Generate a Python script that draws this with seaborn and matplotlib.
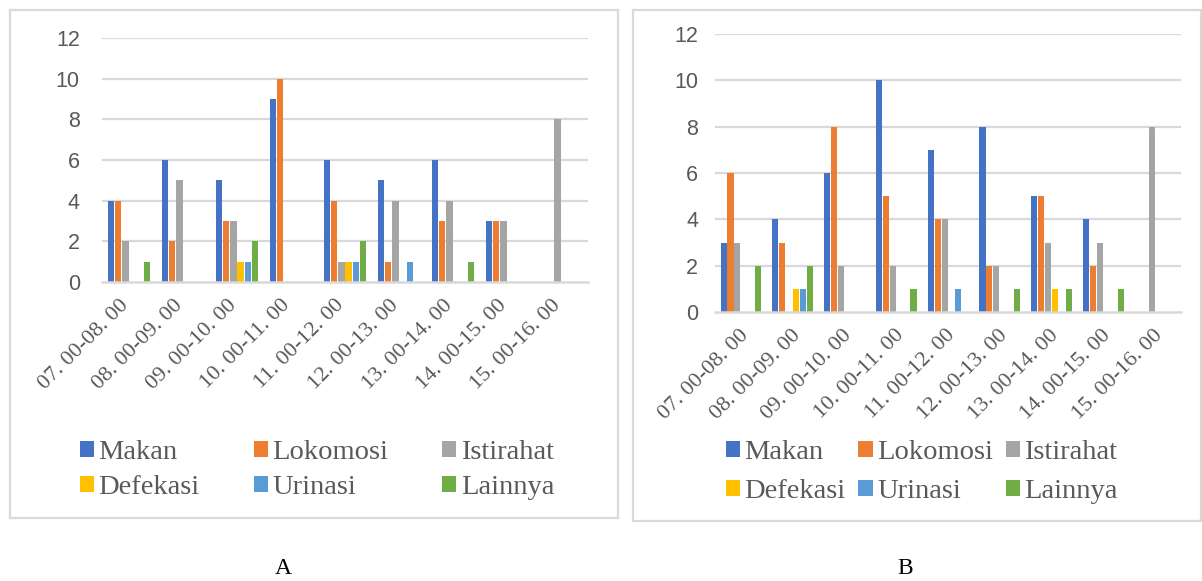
import matplotlib
matplotlib.use("Agg")
import matplotlib.pyplot as plt
from matplotlib.patches import Rectangle, Patch
from matplotlib.transforms import ScaledTranslation
import pandas as pd
import seaborn as sns

# Time slots (x-axis categories)
slots = ["07. 00-08. 00", "08. 00-09. 00", "09. 00-10. 00", "10. 00-11. 00",
         "11. 00-12. 00", "12. 00-13. 00", "13. 00-14. 00", "14. 00-15. 00",
         "15. 00-16. 00"]
activities = ["Makan", "Lokomosi", "Istirahat", "Defekasi", "Urinasi", "Lainnya"]
colors = ["#4472C4", "#ED7D31", "#A5A5A5", "#FFC000", "#5B9BD5", "#70AD47"]

# Panel A: frequency per activity and time slot
a_makan     = [4, 6, 5, 9, 6, 5, 6, 3, 0]
a_lokomosi  = [4, 2, 3, 10, 4, 1, 3, 3, 0]
a_istirahat = [2, 5, 3, 0, 1, 4, 4, 3, 8]
a_defekasi  = [0, 0, 1, 0, 1, 0, 0, 0, 0]
a_urinasi   = [0, 0, 1, 0, 1, 1, 0, 0, 0]
a_lainnya   = [1, 0, 2, 0, 2, 0, 1, 0, 0]

# Panel B
b_makan     = [3, 4, 6, 10, 7, 8, 5, 4, 0]
b_lokomosi  = [6, 3, 8, 5, 4, 2, 5, 2, 0]
b_istirahat = [3, 0, 2, 2, 4, 2, 3, 3, 8]
b_defekasi  = [0, 1, 0, 0, 0, 0, 1, 0, 0]
b_urinasi   = [0, 1, 0, 0, 1, 0, 0, 0, 0]
b_lainnya   = [2, 2, 0, 1, 0, 1, 1, 1, 0]

yticks = [0, 2, 4, 6, 8, 10, 12]


def long_frame(series):
    rows = []
    for act, vals in zip(activities, series):
        for slot, v in zip(slots, vals):
            rows.append({"Waktu": slot, "Aktivitas": act, "Frekuensi": v})
    return pd.DataFrame(rows)


df_a = long_frame([a_makan, a_lokomosi, a_istirahat, a_defekasi, a_urinasi, a_lainnya])
df_b = long_frame([b_makan, b_lokomosi, b_istirahat, b_defekasi, b_urinasi, b_lainnya])

sns.set_theme(style="white")
plt.rcParams["font.family"] = ["Liberation Serif", "DejaVu Serif"]

W, H = 1202, 581
fig = plt.figure(figsize=(W / 100, H / 100), dpi=100)


def fx(px):
    return px / W


def fy(py):
    return 1 - py / H


# Panel frames
frame_kw = dict(transform=fig.transFigure, fill=False, edgecolor="#D9D9D9", linewidth=1.6)
fig.patches.append(Rectangle((fx(10), fy(518)), fx(618) - fx(10), fy(10) - fy(518), **frame_kw))
fig.patches.append(Rectangle((fx(633), fy(521)), fx(1201) - fx(633), fy(10) - fy(521), **frame_kw))

grid_color = "#D9D9D9"
text_gray = "#595959"

# legend entries laid out row by row (matplotlib fills columns first)
row_order = [0, 3, 1, 4, 2, 5]


def draw_panel(df, box, ypad, xshift, legend_x, legend_y, colspace, rowspace):
    x0, x1, ytop, ybot = box
    ax = fig.add_axes([fx(x0), fy(ybot), fx(x1) - fx(x0), fy(ytop) - fy(ybot)])
    sns.barplot(data=df, x="Waktu", y="Frekuensi", hue="Aktivitas",
                hue_order=activities, order=slots, palette=colors,
                width=0.8, gap=0.12, ax=ax, legend=False, errorbar=None,
                linewidth=0, saturation=1)
    ax.set_ylim(0, 12)
    ax.set_yticks(yticks)
    ax.set_xlim(-0.5, len(slots) - 0.5)
    ax.set_xlabel("")
    ax.set_ylabel("")
    for y in yticks[1:]:
        ax.axhline(y, color=grid_color, linewidth=1.6, zorder=0)
    for s in ["top", "right", "left"]:
        ax.spines[s].set_visible(False)
    ax.spines["bottom"].set_color(grid_color)
    ax.spines["bottom"].set_linewidth(1.8)
    ax.tick_params(axis="both", length=0)
    ax.tick_params(axis="y", pad=ypad, labelsize=15.5, labelcolor=text_gray)
    for lab in ax.get_yticklabels():
        lab.set_family(["Liberation Sans", "DejaVu Sans"])
    ax.set_xticks(range(len(slots)))
    ax.set_xticklabels(slots, rotation=45, ha="right", rotation_mode="anchor",
                       fontsize=16, color=text_gray)
    ax.tick_params(axis="x", pad=10)
    offset = ScaledTranslation(xshift / 100, 0, fig.dpi_scale_trans)
    for lab in ax.get_xticklabels():
        lab.set_transform(lab.get_transform() + offset)
    ax.set_facecolor("none")

    handles = [Patch(facecolor=colors[i], edgecolor="none") for i in row_order]
    labels = [activities[i] for i in row_order]
    fig.legend(handles, labels, loc="upper left",
               bbox_to_anchor=(fx(legend_x), fy(legend_y)), ncol=3,
               frameon=False, fontsize=20.5, handlelength=0.5, handleheight=0.5,
               handletextpad=0.15, columnspacing=colspace, labelspacing=rowspace,
               borderpad=0, borderaxespad=0, labelcolor=text_gray)
    return ax


draw_panel(df_a, (102, 588, 38, 282), 16, -10, 80, 440, 1.9, 0.36)
draw_panel(df_b, (715, 1181, 34, 312), 12, -2, 726, 440, 0.45, 0.5)

fig.text(fx(283), fy(568), "A", ha="center", va="center", fontsize=17, color="black")
fig.text(fx(905), fy(568), "B", ha="center", va="center", fontsize=17, color="black")

fig.savefig("out.png", dpi=100, facecolor="white")
